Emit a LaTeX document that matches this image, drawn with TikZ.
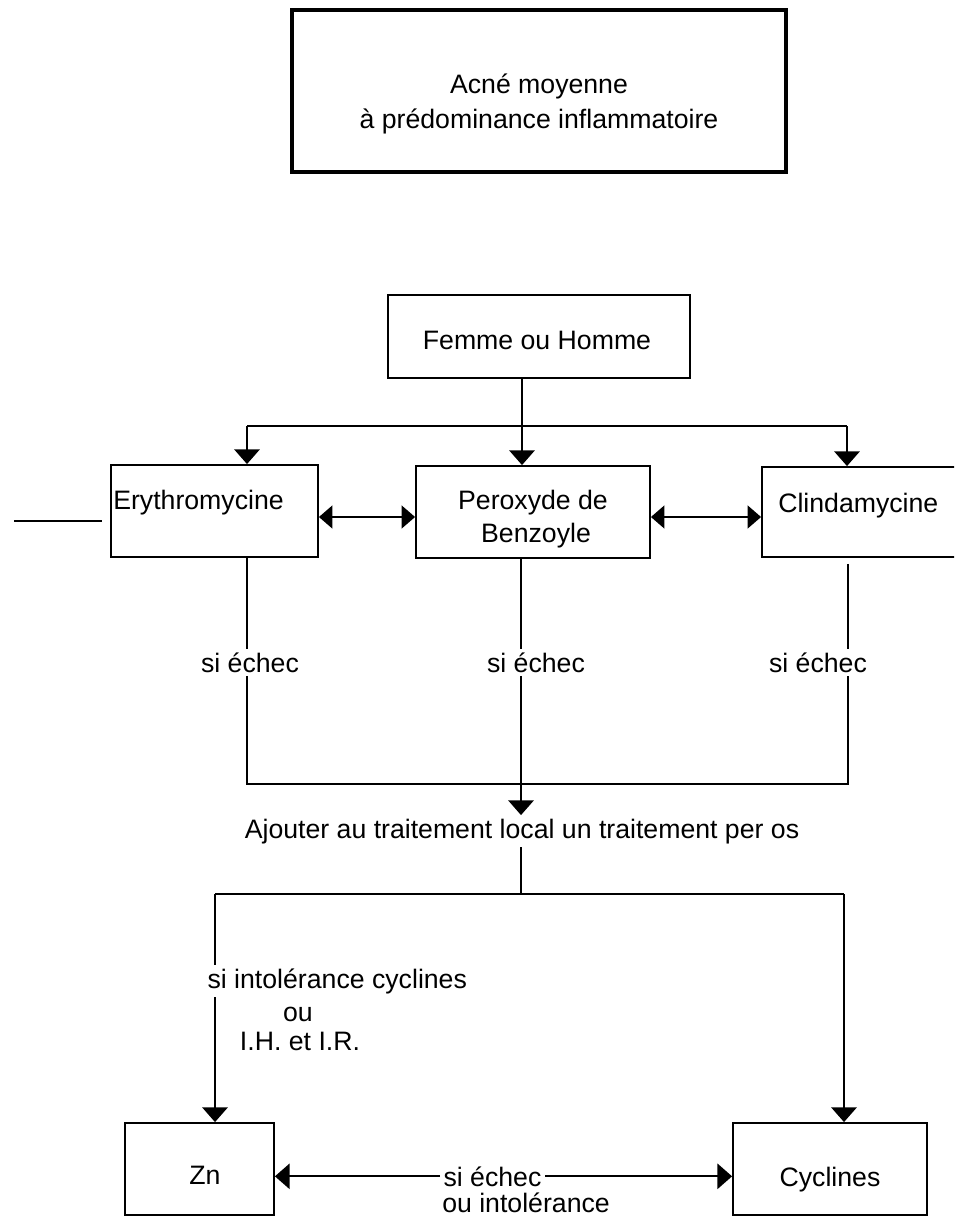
\documentclass[tikz,border=0pt]{standalone}
\usepackage{fontspec}
\setmainfont{Liberation Sans}
\usetikzlibrary{arrows.meta,fit}
\begin{document}
\begin{tikzpicture}[x=0.75pt,y=-0.75pt,
  every node/.style={font=\fontsize{20}{24}\selectfont},
  box/.style={draw, line width=1.4pt, inner sep=0pt},
  txt/.style={anchor=base, inner sep=0pt},
  ln/.style={line width=1.3pt},
  arr/.style={line width=1.3pt, -{Triangle[length=11pt,width=19pt]}},
  darr/.style={line width=1.3pt, {Triangle[length=10pt,width=17pt]}-{Triangle[length=10pt,width=17pt]}},
  lab/.style={anchor=base, inner sep=2.5pt}]
\useasboundingbox (0,0) rectangle (954,1217);
\clip (0,0) rectangle (954,1217);
% boxes
\node[box, line width=3pt, fit={(292,10) (786,172)}] (top) {};
\node[txt] (top1) at (539,93) {Acné moyenne};
\node[txt] (top2) at (539,128) {à prédominance inflammatoire};
\node[box, fit={(388,295) (690,378)}] (femme) {};
\node[txt] (femmet) at (537,349) {Femme ou Homme};
\node[box, fit={(111,465) (318,557)}] (ery) {};
\node[txt, anchor=base west] (eryt) at (113,509) {Erythromycine};
\node[box, fit={(416,466) (650,558)}] (perox) {};
\node[txt] (perox1) at (533,509) {Peroxyde de};
\node[txt] (perox2) at (536,542) {Benzoyle};
\node[box, fit={(762,467) (1000,557)}] (clinda) {};
\node[txt, anchor=base west] (clindat) at (778,512) {Clindamycine};
\node[box, fit={(125,1123) (274,1215)}] (zn) {};
\node[txt] (znt) at (205,1184) {Zn};
\node[box, fit={(733,1123) (927,1215)}] (cyc) {};
\node[txt] (cyct) at (830,1186) {Cyclines};
% labels
\node[lab] (l1) at (250,672) {si échec};
\node[lab] (l2) at (536,672) {si échec};
\node[lab] (l3) at (818,672) {si échec};
\node[lab] (ajout) at (522,838) {Ajouter au traitement local un traitement per os};
\node[lab, anchor=base west] (sic) at (204,988) {si intolérance cyclines};
\node[txt] (ou) at (298,1021) {ou};
\node[txt] (ih) at (300,1050) {I.H. et I.R.};
\node[lab, anchor=base west] (sie) at (440,1186) {si échec};
\node[txt, anchor=base west] (oui) at (442,1212) {ou intolérance};
% coordinates
\coordinate (c1) at (247,426);
\coordinate (c2) at (522,426);
\coordinate (c3) at (847,426);
\coordinate (m1) at (0,517);
\coordinate (d1) at (247,784);
\coordinate (d2) at (521,784);
\coordinate (d3) at (848,784);
\coordinate (e1) at (215,894);
\coordinate (e2) at (521,894);
\coordinate (e3) at (844,894);
\coordinate (s1) at (14,521);
\coordinate (s2) at (102,521);
% connectors top
\draw[arr] (femme.south -| c2) -- (perox.north -| c2);
\draw[ln] (c1) -- (c3);
\draw[arr] (c1) -- (ery.north -| c1);
\draw[arr] (c3) -- (clinda.north -| c3);
\draw[darr] (ery.east |- m1) -- (perox.west |- m1);
\draw[darr] (perox.east |- m1) -- (clinda.west |- m1);
\draw[line width=0.8pt] (s1) -- (s2);
% si echec branches
\draw[ln] (ery.south -| d1) -- (l1.north -| d1);
\draw[ln] (l1.south -| d1) -- (d1) -- (d3) -- (l3.south -| d3);
\draw[ln, shorten <=4.5pt] (clinda.south -| d3) -- (l3.north -| d3);
\draw[ln] (perox.south -| d2) -- (l2.north -| d2);
\draw[arr] (l2.south -| d2) -- (ajout.north -| d2);
% per os
\draw[ln] (ajout.south -| e2) -- (e2);
\draw[ln] (e1) -- (e3);
\draw[ln] (e1) -- (sic.north -| e1);
\draw[arr] (sic.south -| e1) -- (zn.north -| e1);
\draw[arr] (e3) -- (cyc.north -| e3);
\draw[arr] (sie.west) -- (sie.west -| zn.east);
\draw[arr] (sie.east) -- (sie.east -| cyc.west);
\end{tikzpicture}
\end{document}
